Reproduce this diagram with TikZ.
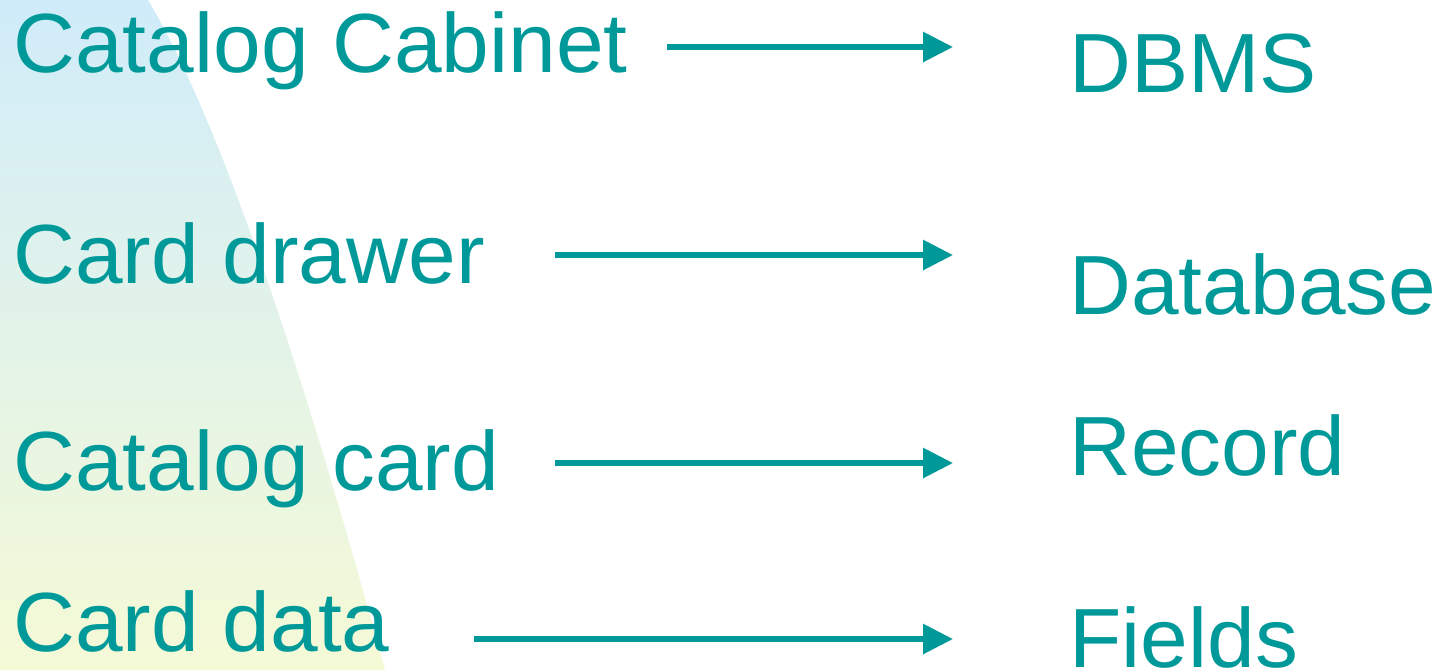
\documentclass[tikz,border=0pt]{standalone}
\usepackage{fontspec}
\setmainfont{Liberation Sans}[FakeStretch=1.02]
\usepackage{xcolor}
\usetikzlibrary{arrows.meta}
\definecolor{teal1}{HTML}{009999}
\definecolor{skyblue1}{HTML}{D0ECFA}
\definecolor{paleyellow1}{HTML}{F5FAD6}

\begin{document}
\begin{tikzpicture}[
  x=0.5pt, y=-0.5pt,
  term/.style={anchor=base west, inner sep=0pt, text=teal1, font=\fontsize{42}{50}\selectfont},
  arrow/.style={-{Triangle[length=15pt, width=14.5pt]}, line width=3pt, draw=teal1}
]
\useasboundingbox (0,0) rectangle (1439,670);
% background band
\shade[top color=skyblue1, bottom color=paleyellow1]
  (0,0) -- (148,0) .. controls (238,150) and (336,490) .. (385,670) -- (0,670) -- cycle;

\node[term] (cc) at (13,72) {Catalog Cabinet};
\node[term] (cd) at (13,283) {Card drawer};
\node[term] (cg) at (13,490) {Catalog card};
\node[term] (da) at (13,651) {Card data};

\node[term] (dbms) at (1069,92) {DBMS};
\node[term] (db) at (1069,314) {Database};
\node[term] (rec) at (1069,475) {Record};
\node[term] (fl) at (1069,667) {Fields};

\coordinate (s1) at (667,47);
\coordinate (e1) at (953,47);
\coordinate (s2) at (555,255);
\coordinate (e2) at (953,255);
\coordinate (s3) at (555,463);
\coordinate (e3) at (953,463);
\coordinate (s4) at (474,639);
\coordinate (e4) at (953,639);

\draw[arrow] (s1) -- (e1);
\draw[arrow] (s2) -- (e2);
\draw[arrow] (s3) -- (e3);
\draw[arrow] (s4) -- (e4);
\end{tikzpicture}
\end{document}
